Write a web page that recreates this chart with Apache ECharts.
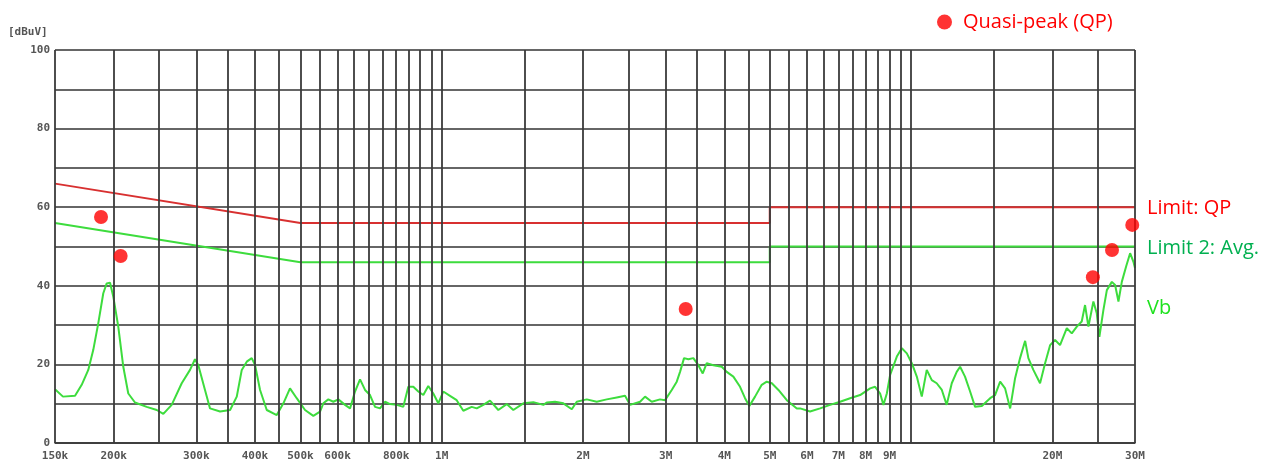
<!DOCTYPE html>
<html>
<head>
<meta charset="utf-8">
<script src="https://cdn.jsdelivr.net/npm/echarts@6/dist/echarts.min.js"></script>
<style>
html,body{margin:0;padding:0;background:#fff;}
#chart{width:1280px;height:463px;}
</style>
</head>
<body>
<div id="chart"></div>
<script>
// Frequencies in MHz
const xTickLabels = [0.15,0.2,0.3,0.4,0.5,0.6,0.8,1,2,3,4,5,6,7,8,9,20,30];
const gridFreqs = [
  0.15,0.2,0.25,0.3,0.35,0.4,0.45,0.5,0.55,0.6,0.65,0.7,0.75,0.8,0.85,0.9,0.95,1,
  1.5,2,2.5,3,3.5,4,4.5,5,5.5,6,6.5,7,7.5,8,8.5,9,9.5,10,15,20,25,30
];
const limitQP = [[0.15,66],[0.5,56],[5,56],[5,60],[30,60]];
const limitAvg = [[0.15,56],[0.5,46],[5,46],[5,50],[30,50]];
const qpPoints = [[0.188,57.5],[0.207,47.6],[3.31,34.1],[24.4,42.2],[26.8,49.1],[29.6,55.5]];
const vbTrace = [
  [0.150,13.7],[0.156,11.8],[0.1655,12.0],[0.171,14.8],[0.1766,18.6],[0.181,23.7],[0.1855,30.5],
  [0.1901,38.1],[0.1933,40.6],[0.1965,40.8],[0.1997,37.2],[0.2046,29.6],[0.2097,19.4],[0.2149,12.6],
  [0.2221,10.3],[0.2352,9.2],[0.2471,8.4],[0.2552,7.4],[0.2659,9.7],[0.2793,15.2],[0.2909,18.6],
  [0.2981,21.3],[0.303,19.8],[0.3131,13.5],[0.3209,8.8],[0.3371,8.0],[0.3541,8.4],[0.3659,11.8],
  [0.375,18.6],[0.3843,20.7],[0.3938,21.6],[0.4003,19.8],[0.4102,13.5],[0.4239,8.4],[0.4452,7.1],
  [0.4599,10.1],[0.4751,13.9],[0.491,11.4],[0.5114,8.4],[0.5327,6.9],[0.5505,8.0],[0.5595,10.1],
  [0.5734,11.1],[0.5876,10.5],[0.6022,11.1],[0.6223,9.7],[0.6378,8.8],[0.6536,13.1],[0.6699,16.2],
  [0.6865,13.5],[0.7035,12.2],[0.721,9.2],[0.7389,8.8],[0.7572,10.5],[0.776,9.9],[0.8019,9.7],
  [0.8283,9.2],[0.8489,14.3],[0.87,14.3],[0.8915,13.1],[0.9137,12.2],[0.9363,14.5],[0.9596,12.6],
  [0.9834,10.1],[1.0078,13.1],[1.0415,12.0],[1.0763,10.9],[1.1118,8.2],[1.1585,9.2],[1.1873,8.8],
  [1.2264,9.7],[1.2674,10.8],[1.3201,8.4],[1.3756,9.9],[1.4209,8.4],[1.4927,10.1],[1.5677,10.4],
  [1.6466,9.7],[1.6743,10.3],[1.7439,10.5],[1.8163,10.1],[1.8927,8.6],[1.9397,10.5],[2.0373,11.1],
  [2.1398,10.5],[2.2473,11.1],[2.3603,11.6],[2.4583,12.0],[2.5194,9.7],[2.646,10.5],[2.7117,11.8],
  [2.8023,10.5],[2.9187,11.1],[2.9912,10.9],[3.0912,13.5],[3.1679,15.6],[3.2196,18.1],[3.2834,21.6],
  [3.3534,21.3],[3.4367,21.6],[3.522,19.8],[3.5988,17.7],[3.67,20.3],[3.7908,19.8],[3.9504,19.4],
  [4.0485,18.1],[4.1818,16.9],[4.3216,14.3],[4.4287,11.4],[4.5233,9.4],[4.6515,11.8],[4.8067,14.8],
  [4.926,15.6],[5.0505,15.2],[5.217,13.5],[5.436,10.9],[5.709,8.8],[5.802,8.8],[6.093,8.0],
  [6.40,8.8],[6.722,9.7],[7.06,10.5],[7.415,11.4],[7.788,12.2],[8.18,13.9],[8.383,14.3],
  [8.592,12.6],[8.732,9.7],[8.879,12.6],[9.024,17.3],[9.326,22.0],[9.557,24.1],[9.794,22.8],
  [10.037,20.3],[10.286,16.9],[10.54,11.8],[10.80,18.6],[11.07,16.0],[11.34,15.2],[11.63,13.5],
  [11.91,9.7],[12.21,15.2],[12.51,18.1],[12.72,19.4],[13.03,16.9],[13.36,13.1],[13.69,9.2],
  [14.15,9.4],[14.74,11.4],[15.10,12.2],[15.48,15.6],[15.86,13.9],[16.26,8.8],[16.66,16.5],
  [17.07,21.6],[17.50,26.0],[17.78,21.6],[18.22,18.6],[18.83,15.2],[19.30,20.3],[19.78,24.9],
  [20.27,26.2],[20.77,24.9],[21.47,29.2],[22.0,27.9],[22.55,29.6],[23.10,30.9],[23.48,35.1],
  [23.87,29.6],[24.46,36.0],[24.87,33.0],[25.19,27.0],[25.69,33.8],[26.13,38.9],[26.78,41.0],
  [27.21,40.2],[27.66,36.0],[28.12,41.0],[28.72,44.9],[29.29,48.3],[29.77,46.1],[30.0,44.5]
];

const fmtFreq = v => v < 1 ? Math.round(v * 1000) + 'k' : Math.round(v) + 'M';
const axisFont = {fontFamily:'DejaVu Sans Mono', fontWeight:'bold', fontSize:11, color:'#555'};
const noteFont = {fontFamily:'Open Sans', fontSize:20};

const chart = echarts.init(document.getElementById('chart'));
chart.setOption({
  animation:false,
  backgroundColor:'#fff',
  grid:{left:55, right:145, top:50, bottom:20, containLabel:false},
  legend:{
    data:['Quasi-peak (QP)'], left:932, top:7, icon:'circle', itemWidth:15, itemHeight:15,
    textStyle:Object.assign({color:'#ff0000', padding:[0,0,0,6]}, noteFont)
  },
  graphic:[{type:'text', left:8, top:27, style:{text:'[dBuV]', fill:'#555', font:'bold 11px "DejaVu Sans Mono"'}}],
  xAxis:{
    type:'log', logBase:10, min:0.15, max:30,
    axisLine:{show:true, lineStyle:{color:'#333', width:1.5}},
    axisTick:{show:false},
    splitLine:{show:false},
    axisLabel:Object.assign({customValues:xTickLabels, formatter:fmtFreq, margin:8, showMinLabel:true, showMaxLabel:true}, axisFont)
  },
  yAxis:{
    type:'value', min:0, max:100, interval:10,
    axisLine:{show:false}, axisTick:{show:false},
    splitLine:{show:true, lineStyle:{color:'#333', width:1.5}},
    axisLabel:Object.assign({formatter:v => v % 20 === 0 ? String(v) : '', margin:5}, axisFont)
  },
  series:[
    {
      name:'grid', type:'line', data:[], silent:true, z:1,
      markLine:{
        silent:true, symbol:'none', animation:false,
        label:{show:false},
        lineStyle:{color:'#3a3a3a', width:1.8, type:'solid'},
        data:gridFreqs.map(f => ({xAxis:f}))
      }
    },
    {
      name:'Limit: QP', type:'line', data:limitQP, showSymbol:false, z:3,
      lineStyle:{color:'#d83030', width:2},
      endLabel:Object.assign({show:true, formatter:'Limit: QP', color:'#ff0000', distance:12, offset:[0,1]}, noteFont)
    },
    {
      name:'Limit 2: Avg.', type:'line', data:limitAvg, showSymbol:false, z:3,
      lineStyle:{color:'#3ddc3d', width:2},
      endLabel:Object.assign({show:true, formatter:'Limit 2: Avg.', color:'#00b050', distance:12, offset:[0,2]}, noteFont)
    },
    {
      name:'Vb', type:'line', data:vbTrace, showSymbol:false, z:4,
      lineStyle:{color:'#3ddc3d', width:2},
      endLabel:Object.assign({show:true, formatter:'Vb', color:'#1ee21e', distance:12, offset:[0,40]}, noteFont)
    },
    {
      name:'Quasi-peak (QP)', type:'scatter', data:qpPoints, symbol:'circle', symbolSize:14, z:5,
      itemStyle:{color:'#ff0000'}
    }
  ]
});
</script>
</body>
</html>
